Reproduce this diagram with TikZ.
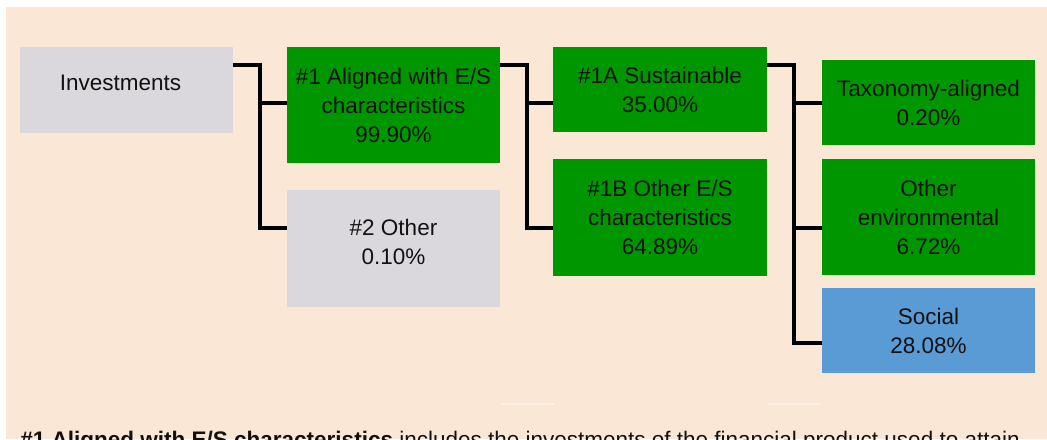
\documentclass[tikz,border=0pt]{standalone}
\usepackage{fontspec}
\setmainfont{Liberation Sans}
\usetikzlibrary{positioning}

\definecolor{bgbeige}{RGB}{250,231,214}
\definecolor{esgreen}{RGB}{0,150,0}
\definecolor{invgrey}{RGB}{218,216,221}
\definecolor{socblue}{RGB}{91,155,213}
\definecolor{glint}{RGB}{252,242,233}
\definecolor{inktext}{RGB}{17,17,17}

\begin{document}
\begin{tikzpicture}[
  x=0.5pt, y=-0.5pt,
  node distance=13.5pt and 27pt,
  box/.style={inner sep=0pt, outer sep=0pt, align=center, text=inktext,
    font=\fontsize{11.25}{14.5}\selectfont, minimum width=106.5pt},
  greenbox/.style={box, fill=esgreen},
  greybox/.style={box, fill=invgrey, text depth=7pt},
  bluebox/.style={box, fill=socblue},
  conn/.style={line width=1.6pt, black}
]
\useasboundingbox (0,0) rectangle (1047,439);
\fill[white] (0,0) rectangle (1047,439);
\fill[bgbeige] (6,7) rectangle (1047,439);

% Boxes
\node[greybox, minimum height=43pt, anchor=north west] (inv) at (20,47) {Investments\hspace*{6pt}};
\node[greenbox, minimum height=58pt, below right=0pt and 27pt of inv.north east] (one) {\#1 Aligned with E/S\\characteristics\\99.90\%};
\node[greybox, minimum height=58.5pt, below=13.5pt of one] (other) {\#2 Other\\0.10\%};

\node[greenbox, minimum width=107pt, minimum height=42.5pt, below right=0pt and 26.5pt of one.north east] (oneA) {\#1A Sustainable\\35.00\%};
\node[greenbox, minimum width=107pt, minimum height=58.5pt, below=13.5pt of oneA] (oneB) {\#1B Other E/S\\characteristics\\64.89\%};

\node[greenbox, minimum height=42.5pt, below right=6.5pt and 27.5pt of oneA.north east] (tax) {Taxonomy-aligned\\0.20\%};
\node[greenbox, minimum height=58pt, below=7pt of tax] (oenv) {Other\\environmental\\6.72\%};
\node[bluebox, minimum height=42.5pt, below=6.5pt of oenv] (soc) {Social\\28.08\%};

% Connections
\draw[conn] (inv.east |- 0,65) -| (260,228) -- (other.west |- 0,228);
\draw[conn] (260,103) -- (one.west |- 0,103);

\draw[conn] (one.east |- 0,65) -| (527,228) -- (oneB.west |- 0,228);
\draw[conn] (527,103) -- (oneA.west |- 0,103);

\draw[conn] (oneA.east |- 0,65) -| (794,343) -- (soc.west |- 0,343);
\draw[conn] (794,103) -- (tax.west |- 0,103);
\draw[conn] (794,228) -- (oenv.west |- 0,228);

% small light marks
\fill[glint] (501,402.5) rectangle (554,404.5);
\fill[glint] (768,402.5) rectangle (820,404.5);

% Note below the chart
\node[anchor=base west, inner sep=0pt, text=inktext, font=\fontsize{11.25}{14.5}\selectfont] (note) at (20,447)
  {\textbf{\#1 Aligned with E/S characteristics} includes the investments of the financial product used to attain};
\end{tikzpicture}
\end{document}
